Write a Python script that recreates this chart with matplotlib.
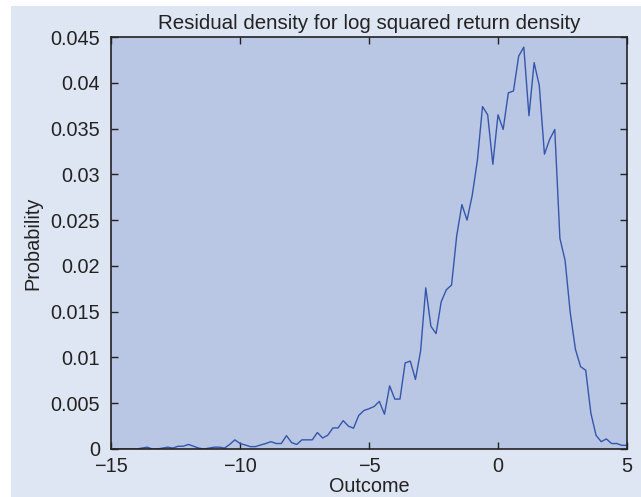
import matplotlib
matplotlib.use("Agg")
import matplotlib.pyplot as plt
import numpy as np
from matplotlib.patches import Rectangle

plt.rcParams['font.family'] = ['Liberation Sans', 'DejaVu Sans']

x_start, x_step = -15.0, 0.2
density = [
    0, 0, 0, 0, 0, 0, 0.0001, 0.0002, 0, 0,            # -15.0 .. -13.2
    0.0001, 0.0002, 0.0001, 0.0003, 0.0003, 0.0005, 0.0003, 0.0001, 0, 0.0001,  # -13.0 .. -11.2
    0.0002, 0.0002, 0.0001, 0.0005, 0.0010, 0.0006, 0.00044, 0.00026, 0.00026, 0.00044,  # -11.0 .. -9.2
    0.0006, 0.0008, 0.0006, 0.0006, 0.00146, 0.0007, 0.0005, 0.0010, 0.0010, 0.0010,  # -9.0 .. -7.2
    0.0018, 0.0012, 0.0015, 0.0023, 0.0023, 0.0031, 0.0025, 0.00227, 0.00366, 0.0042,  # -7.0 .. -5.2
    0.0044, 0.00464, 0.0052, 0.0038, 0.0069, 0.00545, 0.00545, 0.0094, 0.0096, 0.0076,  # -5.0 .. -3.2
    0.0107, 0.0176, 0.0134, 0.0126, 0.0161, 0.0174, 0.0179, 0.0233, 0.0267, 0.0250,  # -3.0 .. -1.2
    0.0277, 0.0315, 0.0374, 0.0365, 0.0311, 0.0365, 0.0349, 0.0389, 0.0391, 0.0429,  # -1.0 .. 0.8
    0.0439, 0.0364, 0.0422, 0.0397, 0.0322, 0.0338, 0.0349, 0.0230, 0.0206, 0.0149,  # 1.0 .. 2.8
    0.0109, 0.0090, 0.0086, 0.0039, 0.0015, 0.0008, 0.0011, 0.0006, 0.0006, 0.0004,  # 3.0 .. 4.8
    0.0004,  # 5.0
]
outcome = x_start + x_step * np.arange(len(density))

x_ticks = [-15, -10, -5, 0, 5]
x_tick_labels = ['\u221215', '\u221210', '\u22125', '0', '5']
y_ticks = [0, 0.005, 0.01, 0.015, 0.02, 0.025, 0.03, 0.035, 0.04, 0.045]
y_tick_labels = ['0', '0.005', '0.01', '0.015', '0.02', '0.025', '0.03', '0.035', '0.04', '0.045']

fig = plt.figure(figsize=(6.41, 4.97), dpi=100, facecolor='white')
fig.patches.append(Rectangle((11/641, 0), 1, 1 - 6/497, transform=fig.transFigure,
                             facecolor='#dfe6f3', edgecolor='none', zorder=-10))
ax = fig.add_axes([111/641, 1 - 449/497, (627-111)/641, (449-37)/497])
ax.set_facecolor('#b9c7e4')
ax.plot(outcome, density, color='#3556aa', linewidth=1.0)
ax.set_xlim(-15, 5)
ax.set_ylim(0, 0.045)
ax.set_xticks(x_ticks)
ax.set_xticklabels(x_tick_labels)
ax.set_yticks(y_ticks)
ax.set_yticklabels(y_tick_labels)
ax.tick_params(direction='in', top=True, right=True, length=5, width=1,
               labelsize=14.3, colors='#222222')
ax.tick_params(axis='y', pad=8)
ax.tick_params(axis='x', pad=6)
for s in ax.spines.values():
    s.set_color('#222222')
    s.set_linewidth(1.2)
ax.set_xlabel('Outcome', fontsize=14.3, labelpad=0.5, color='#222222')
ax.set_ylabel('Probability', fontsize=14.3, labelpad=6, color='#222222')
ax.set_title('Residual density for log squared return density', fontsize=14.8,
             pad=6, color='#222222')

fig.savefig('out.png', dpi=100, facecolor=fig.get_facecolor())
